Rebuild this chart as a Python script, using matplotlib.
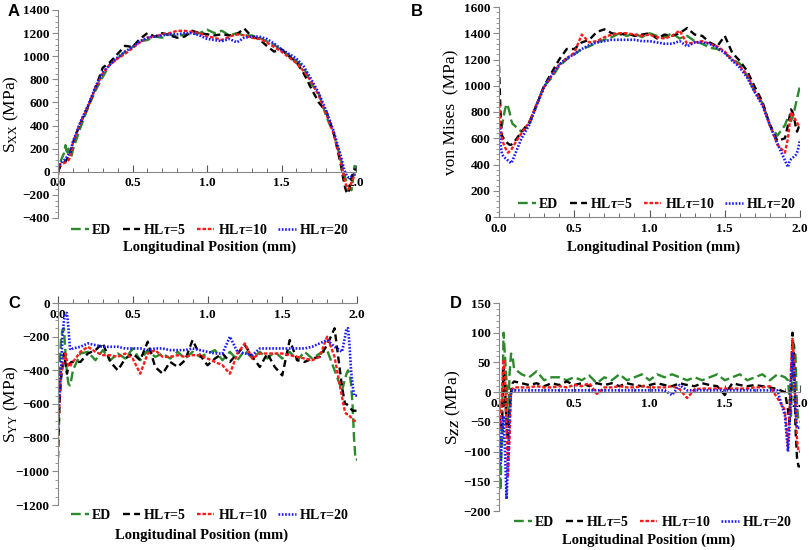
import matplotlib
matplotlib.use("Agg")
import matplotlib.pyplot as plt
from matplotlib.ticker import MultipleLocator, FormatStrFormatter

plt.rcParams['font.family'] = 'Liberation Serif'
plt.rcParams['font.weight'] = 'bold'
plt.rcParams['mathtext.fontset'] = 'custom'
plt.rcParams['mathtext.rm'] = 'Liberation Serif:bold'
plt.rcParams['mathtext.it'] = 'Liberation Serif:italic:bold'
plt.rcParams['mathtext.bf'] = 'Liberation Serif:bold'
plt.rcParams['lines.scale_dashes'] = False

# posição longitudinal (mm)
pos = [0.00, 0.01, 0.02, 0.03, 0.04, 0.05, 0.06, 0.07, 0.08, 0.09,
       0.10, 0.15, 0.20, 0.25, 0.30, 0.35, 0.40, 0.45, 0.50, 0.55,
       0.60, 0.65, 0.70, 0.75, 0.80, 0.85, 0.90, 0.95, 1.00, 1.05,
       1.10, 1.15, 1.20, 1.25, 1.30, 1.35, 1.40, 1.45, 1.50, 1.55,
       1.60, 1.65, 1.70, 1.75, 1.80, 1.85, 1.90,
       1.92, 1.93, 1.94, 1.95, 1.96, 1.97, 1.98, 1.99, 2.00]

legendas = ["ED", r"HL$\tau$=5", r"HL$\tau$=10", r"HL$\tau$=20"]

# A - Sxx
sxx_ed = [-30, 60, 100, 130, 160, 230, 150, 200, 150, 130,
          190, 380, 550, 700, 820, 930, 980, 1040, 1080, 1130,
          1140, 1170, 1160, 1190, 1170, 1190, 1190, 1200, 1230, 1200,
          1220, 1180, 1200, 1180, 1180, 1160, 1130, 1100, 1050, 1010,
          960, 900, 760, 680, 480, 330, 100,
          -20, -60, -100, -130, -150, -160, -60, 50, 40]
sxx_hl5 = [0, 30, 60, 70, 80, 90, 110, 130, 150, 200,
           250, 420, 560, 720, 900, 950, 1020, 1090, 1080, 1150,
           1200, 1170, 1200, 1180, 1160, 1170, 1220, 1200, 1190, 1180,
           1190, 1180, 1190, 1240, 1170, 1150, 1090, 1040, 1060, 1000,
           950, 850, 720, 600, 520, 340, 50,
           -100, -150, -190, -170, -120, -60, 0, 20, 20]
sxx_hl10 = [0, 50, 70, 70, 75, 80, 90, 100, 120, 180,
            250, 420, 560, 720, 850, 930, 980, 1020, 1070, 1120,
            1160, 1170, 1190, 1200, 1220, 1220, 1210, 1200, 1170, 1160,
            1140, 1170, 1190, 1180, 1160, 1150, 1120, 1080, 1040, 990,
            940, 870, 780, 660, 500, 330, 80,
            -50, -100, -140, -150, -130, -90, -60, -30, -20]
sxx_hl20 = [0, 60, 80, 90, 100, 110, 130, 150, 170, 210,
            260, 430, 570, 730, 860, 930, 990, 1040, 1080, 1130,
            1160, 1170, 1180, 1190, 1190, 1200, 1200, 1180, 1150, 1140,
            1130, 1150, 1120, 1160, 1170, 1170, 1150, 1110, 1060, 1020,
            980, 910, 800, 680, 530, 350, 130,
            20, -10, -40, -50, -50, -40, -30, -20, -10]

# B - von Mises
vm_ed = [700, 690, 700, 760, 820, 860, 840, 800, 740, 710,
         700, 650, 700, 860, 1000, 1060, 1150, 1200, 1240, 1280,
         1300, 1330, 1350, 1370, 1400, 1380, 1400, 1370, 1400, 1380,
         1370, 1400, 1360, 1380, 1340, 1320, 1290, 1280, 1250, 1200,
         1170, 1070, 950, 870, 700, 620, 700,
         760, 740, 730, 760, 800, 850, 900, 950, 1000]
vm_hl5 = [1150, 800, 620, 600, 590, 570, 560, 550, 550, 560,
          570, 650, 720, 850, 1000, 1100, 1200, 1280, 1280, 1330,
          1350, 1410, 1430, 1400, 1390, 1400, 1380, 1390, 1400, 1360,
          1390, 1380, 1400, 1440, 1390, 1380, 1330, 1300, 1380, 1250,
          1190, 1110, 990, 880, 700, 580, 600,
          700, 760, 820, 800, 760, 700, 650, 680, 700]
vm_hl10 = [900, 700, 600, 560, 530, 510, 490, 500, 510, 530,
           550, 640, 720, 860, 990, 1080, 1160, 1210, 1250, 1390,
           1330, 1340, 1370, 1390, 1400, 1400, 1390, 1380, 1390, 1370,
           1360, 1380, 1420, 1320, 1330, 1340, 1320, 1300, 1260, 1200,
           1150, 1080, 960, 860, 700, 550, 490,
           600, 700, 800, 780, 760, 740, 720, 700, 680]
vm_hl20 = [700, 550, 480, 460, 450, 440, 430, 420, 410, 430,
           460, 600, 700, 850, 990, 1080, 1160, 1210, 1240, 1280,
           1310, 1330, 1340, 1350, 1350, 1350, 1350, 1340, 1340, 1330,
           1320, 1320, 1340, 1300, 1330, 1330, 1320, 1290, 1250, 1190,
           1140, 1060, 950, 850, 700, 560, 430,
           380, 420, 440, 450, 460, 470, 490, 530, 590]

# C - Syy
syy_ed = [-600, -400, -220, -160, -150, -300, -420, -480, -490, -450,
          -400, -300, -290, -340, -280, -340, -300, -330, -270, -340,
          -280, -320, -300, -330, -290, -330, -290, -320, -300, -280,
          -340, -290, -340, -280, -330, -290, -330, -290, -330, -290,
          -340, -290, -330, -300, -280, -400, -520,
          -450, -420, -400, -420, -480, -600, -800, -930, -930]
syy_hl5 = [-920, -600, -450, -380, -300, -360, -420, -380, -360, -350,
           -350, -350, -300, -280, -240, -350, -400, -330, -300, -340,
           -230, -380, -420, -350, -380, -340, -220, -310, -370, -330,
           -300, -350, -300, -250, -320, -380, -300, -380, -430, -220,
           -340, -350, -330, -320, -250, -150, -500,
           -600, -600, -610, -620, -630, -640, -640, -640, -640]
syy_hl10 = [-850, -550, -420, -380, -330, -300, -350, -370, -380, -360,
            -350, -290, -260, -290, -310, -310, -320, -300, -330, -420,
            -300, -280, -320, -320, -310, -320, -310, -310, -330, -350,
            -370, -420, -300, -240, -330, -300, -300, -300, -300, -310,
            -320, -330, -340, -320, -200, -320, -560,
            -650, -660, -660, -670, -680, -690, -700, -700, -700]
syy_hl20 = [-750, -550, -400, -200, -100, -60, -60, -150, -270, -280,
            -270, -260, -240, -250, -260, -260, -260, -270, -270, -270,
            -280, -270, -270, -280, -280, -280, -270, -280, -290, -300,
            -300, -200, -290, -300, -310, -270, -270, -270, -270, -270,
            -270, -270, -260, -240, -220, -260, -290,
            -200, -150, -150, -250, -400, -480, -550, -550, -550]

# D - Szz
szz_ed = [-50, -165, -60, 100, 60, 20, -50, 30, 65, 60,
          40, 30, 25, 35, 20, 25, 25, 20, 25, 20,
          28, 15, 25, 20, 30, 20, 25, 30, 20, 30,
          25, 30, 25, 20, 25, 20, 25, 30, 20, 25,
          30, 20, 25, 30, 20, 30, 25,
          20, -10, -40, 40, 80, 60, -20, -50, -50]
szz_hl5 = [-20, -60, -50, 40, 10, -60, -80, -30, 0, 15,
           18, 15, 12, 15, 10, 15, 12, 18, 12, 15,
           10, 15, 12, 15, 10, 15, 12, 10, 12, 15,
           12, 10, 15, 12, 10, 15, 12, 10, -5, 15,
           12, 10, 12, 10, 8, 5, 0,
           -30, -50, 0, 100, 60, -60, -110, -125, -125]
szz_hl10 = [-30, -60, 0, 55, 30, -60, -140, -80, 0, 5,
            8, 8, 8, 10, 8, 8, 10, 8, 12, 10,
            15, -3, 8, 8, 10, 8, 8, 10, 8, 8,
            8, 10, 5, -10, 5, 6, 6, 6, 6, 6,
            6, 6, 8, 8, 10, -10, -30,
            -90, -40, 40, 90, 50, -20, -80, -100, -100]
szz_hl20 = [-40, -120, -80, -40, -100, -180, -120, -40, 0, 3,
            3, 3, 3, 3, 3, 3, 3, 3, 3, 3,
            3, 3, 3, 3, 3, 3, 3, 3, 3, 3,
            3, -5, 12, 3, 3, 3, 3, 3, 3, 3,
            3, 3, 3, 3, 3, 3, -40,
            -100, -60, 20, 65, 30, -30, -60, -60, -60]

cores = ["#2b8a2b", "black", "#ff1a1a", "#1a1aff"]
# tracejados em pontos (sem escala pela largura)
tracos = [(7, 3), (5, 3), (2.6, 1.3), (1.2, 1.2)]
larg = [1.7, 1.7, 1.7, 1.9]

figura = plt.figure(figsize=(8.09, 5.5), dpi=100)


def painel(ret, series, ylim, ystep, yminor, ylabel, ylab_x, letra, letra_xy, leg_xy, xlab_xy):
    ax = figura.add_axes(ret)
    for s, c, d, w, lab in zip(series, cores, tracos, larg, legendas):
        ax.plot(pos, s, color=c, dashes=d, lw=w, label=lab)
    ax.set_xlim(0, 2.0)
    ax.set_ylim(*ylim)
    for lado in ["top", "right"]:
        ax.spines[lado].set_visible(False)
    ax.spines["left"].set_color("#888888")
    ax.spines["bottom"].set_color("#888888")
    ax.spines["bottom"].set_position(("data", 0))
    ax.xaxis.set_major_locator(MultipleLocator(0.5))
    ax.xaxis.set_minor_locator(MultipleLocator(0.1))
    ax.xaxis.set_major_formatter(FormatStrFormatter("%.1f"))
    ax.yaxis.set_major_locator(MultipleLocator(ystep))
    ax.yaxis.set_minor_locator(MultipleLocator(yminor))
    ax.tick_params(axis="x", which="both", direction="in", color="#555555", labelsize=9.5, pad=4)
    ax.tick_params(axis="x", which="major", length=5)
    ax.tick_params(axis="x", which="minor", length=3)
    ax.tick_params(axis="y", which="both", direction="out", color="#888888", labelsize=9.5, pad=2)
    ax.tick_params(axis="y", which="major", length=4)
    ax.tick_params(axis="y", which="minor", length=2)
    ax.set_ylabel(ylabel, fontsize=12.5)
    ax.yaxis.set_label_coords(ylab_x, 0.5)
    figura.text(letra_xy[0], letra_xy[1], letra, family="Liberation Sans",
                fontsize=12, fontweight="bold", ha="left", va="center")
    figura.text(xlab_xy[0], xlab_xy[1], "Longitudinal Position (mm)",
                fontsize=10.5, fontweight="bold", ha="center", va="center")
    ax.legend(loc="center", bbox_to_anchor=leg_xy, bbox_transform=figura.transFigure,
              ncol=4, frameon=False, fontsize=10, handlelength=1.25,
              handletextpad=0.25, columnspacing=0.8, borderpad=0)
    return ax


painel([58 / 809, 1 - 218 / 550, 298 / 809, 208 / 550],
       [sxx_ed, sxx_hl5, sxx_hl10, sxx_hl20], (-400, 1400), 200, 50,
       r"S$_{\mathregular{XX}}$ (MPa)", -0.124, "A", (8 / 809, 1 - 12 / 550),
       (210 / 809, 1 - 230 / 550), (210 / 809, 1 - 247 / 550))

painel([499 / 809, 1 - 217 / 550, 301 / 809, 210 / 550],
       [vm_ed, vm_hl5, vm_hl10, vm_hl20], (0, 1600), 200, 40,
       "von Mises  (MPa)", -0.13, "B", (411 / 809, 1 - 12 / 550),
       (657 / 809, 1 - 204 / 550), (654 / 809, 1 - 247 / 550))

painel([58 / 809, 1 - 505 / 550, 299 / 809, 202 / 550],
       [syy_ed, syy_hl5, syy_hl10, syy_hl20], (-1200, 0), 200, 50,
       r"S$_{\mathregular{YY}}$ (MPa)", -0.124, "C", (8 / 809, 1 - 304 / 550),
       (210 / 809, 1 - 515 / 550), (202 / 809, 1 - 535 / 550))

painel([499 / 809, 1 - 511 / 550, 301 / 809, 208 / 550],
       [szz_ed, szz_hl5, szz_hl10, szz_hl20], (-200, 150), 50, 10,
       r"S$_{ZZ}$ (MPa)", -0.12, "D", (450 / 809, 1 - 304 / 550),
       (653 / 809, 1 - 522 / 550), (649 / 809, 1 - 540 / 550))

figura.savefig("out.png", dpi=100)
